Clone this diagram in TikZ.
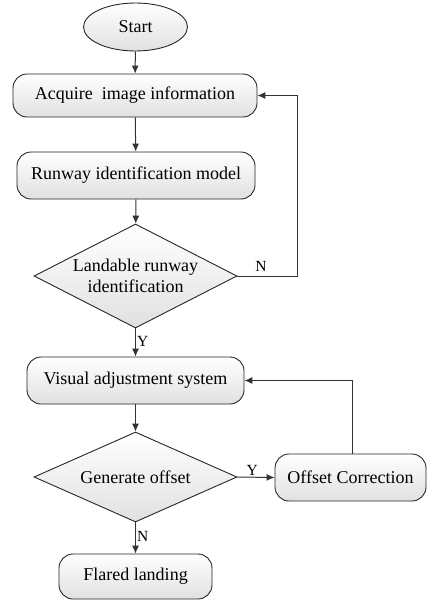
\documentclass[tikz,border=0pt]{standalone}
\usepackage{fontspec}
\setmainfont{Liberation Serif}
\usetikzlibrary{shapes.geometric,arrows.meta}
\begin{document}
\begin{tikzpicture}[x=1pt,y=1pt,
  font=\fontsize{18}{21.5}\selectfont,
  proc/.style={rectangle, rounded corners=14pt, draw=black!85, line width=0.9pt,
    top color=white, bottom color=black!12, inner sep=0pt, align=center},
  decide/.style={diamond, aspect=2, draw=black!85, line width=0.9pt,
    top color=white, bottom color=black!12, inner sep=0pt, align=center},
  term/.style={ellipse, draw=black!85, line width=0.9pt,
    top color=white, bottom color=black!12, inner sep=0pt},
  flow/.style={draw=black!80, line width=1pt, -{Latex[length=8pt,width=7pt]}},
  tag/.style={font=\fontsize{15.5}{18}\selectfont, inner sep=1pt}]
\useasboundingbox (0,0) rectangle (426,-602);

\node[term, minimum width=104pt, minimum height=48pt] (start) at (135.5,-27) {Start};
\node[proc, minimum width=244pt, minimum height=43pt] (acq) at (135,-95.5) {Acquire\ \ image information};
\node[proc, minimum width=238pt, minimum height=47pt] (rim) at (136,-175.5) {Runway identification model};
\node[decide, minimum width=203pt, minimum height=104pt] (land) at (135.5,-276) {Landable runway\\identification};
\node[proc, minimum width=217pt, minimum height=47pt] (vas) at (135.5,-380.5) {Visual adjustment system};
\node[decide, minimum width=203pt, minimum height=90pt] (gen) at (135.5,-477) {Generate offset};
\node[proc, minimum width=151pt, minimum height=47pt] (off) at (350.5,-477.5) {Offset Correction};
\node[proc, minimum width=153pt, minimum height=45pt] (flare) at (135.5,-576.5) {Flared landing};

\coordinate (nback) at (297,-276);
\coordinate (nback2) at (297,-95.5);
\coordinate (oback) at (352,-380.5);

\draw[flow] (start) -- (acq);
\draw[flow] (acq) -- (rim);
\draw[flow] (rim) -- (land);
\draw[flow] (land) -- node[tag, right, pos=0.45] {Y} (vas);
\draw[flow] (land.east) -- (nback) -- (nback2) -- (acq.east);
\node[tag] at (261,-266) {N};
\draw[flow] (vas) -- (gen);
\draw[flow] (gen.east) -- node[tag, above, pos=0.4] {Y} (off.west);
\draw[flow] (off.north -| oback) -- (oback) -- (vas.east);
\draw[flow] (gen) -- node[tag, right, pos=0.45] {N} (flare);
\end{tikzpicture}
\end{document}
